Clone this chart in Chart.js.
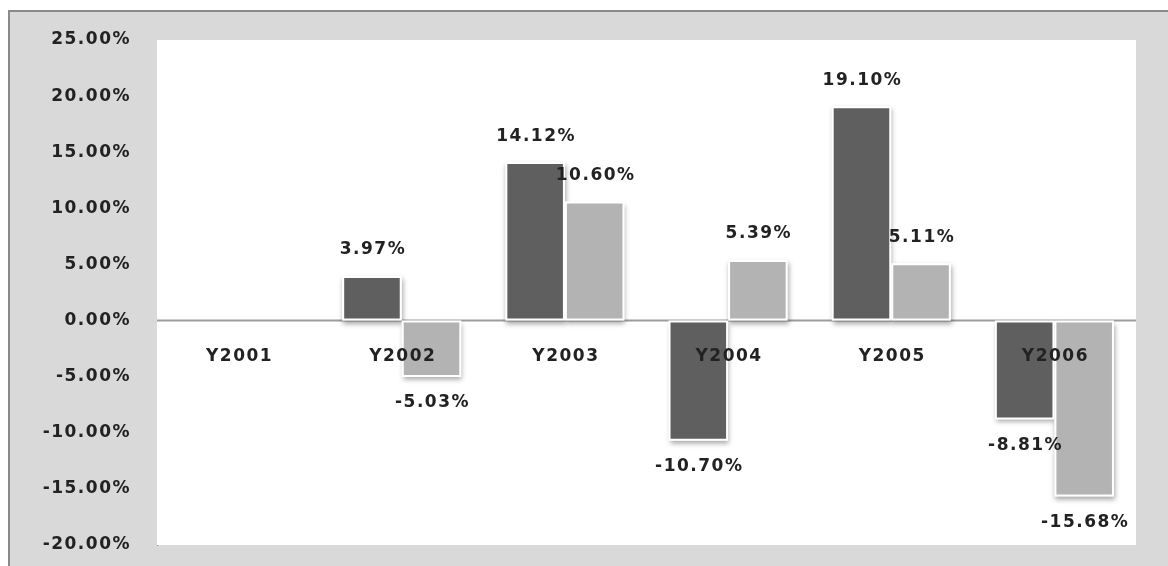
<!DOCTYPE html>
<html>
<head>
<meta charset="utf-8">
<title>Annual returns Y2001-Y2006</title>
<script src="https://cdn.jsdelivr.net/npm/chart.js@4"></script>
<style>
    body { margin: 0; background: #ffffff; }
    #wrap { position: relative; width: 1168px; height: 566px; overflow: hidden; }
    #frame {
        position: absolute; left: 8px; top: 10px; width: 1200px; height: 600px;
        background: #d9d9d9; border-left: 2px solid #8a8a8a; border-top: 2px solid #8a8a8a;
    }
    #returnsChart { position: absolute; left: 0; top: 0; }
</style>
</head>
<body>
<div id="wrap">
    <div id="frame"></div>
    <canvas id="returnsChart" width="1168" height="566"></canvas>
</div>
<script>
        // yearly returns (%), Y2001 has no figures
        const years = ["Y2001", "Y2002", "Y2003", "Y2004", "Y2005", "Y2006"];
        const seriesA = [null, 3.97, 14.12, -10.70, 19.10, -8.81];
        const seriesB = [null, -5.03, 10.60, 5.39, 5.11, -15.68];
        const yTicks = [-20, -15, -10, -5, 0, 5, 10, 15, 20, 25];

        const textFont = 'bold 17px "DejaVu Sans"';
        const textColor = "#222222";
        const spacing = "1.5px";

        // white plot area, zero line and soft shadows behind the bars
        const backdrop = {
            id: "backdrop",
            beforeDraw(chart) {
                chart.ctx.letterSpacing = spacing;
            },
            beforeDatasetsDraw(chart) {
                const { ctx, chartArea: a, scales } = chart;
                ctx.save();
                ctx.fillStyle = "#ffffff";
                ctx.fillRect(a.left, a.top, a.right - a.left, a.bottom - a.top);

                const y0 = scales.y.getPixelForValue(0);
                ctx.strokeStyle = "#9c9c9c";
                ctx.lineWidth = 2;
                ctx.beginPath();
                ctx.moveTo(a.left, y0);
                ctx.lineTo(a.right, y0);
                ctx.stroke();

                ctx.shadowColor = "rgba(0,0,0,0.35)";
                ctx.shadowBlur = 5;
                ctx.shadowOffsetX = 1;
                ctx.shadowOffsetY = 3;
                ctx.fillStyle = "#ffffff";
                chart.data.datasets.forEach((ds, i) => {
                    chart.getDatasetMeta(i).data.forEach((bar, j) => {
                        if (ds.data[j] == null) return;
                        const top = Math.min(bar.y, bar.base);
                        const h = Math.abs(bar.y - bar.base);
                        ctx.fillRect(bar.x - bar.width / 2, top, bar.width, h);
                    });
                });
                ctx.restore();
            },
            afterDraw(chart) {
                const { ctx, scales } = chart;
                ctx.save();
                ctx.letterSpacing = spacing;
                ctx.font = textFont;
                ctx.fillStyle = textColor;
                ctx.textAlign = "center";
                ctx.textBaseline = "middle";

                // value labels just past the end of each bar
                chart.data.datasets.forEach((ds, i) => {
                    chart.getDatasetMeta(i).data.forEach((bar, j) => {
                        const v = ds.data[j];
                        if (v == null) return;
                        const y = v >= 0 ? bar.y - 26 : bar.y + 26;
                        ctx.fillText(v.toFixed(2) + "%", bar.x + 1, y);
                    });
                });

                // year names sit under the zero line, over the bars
                const yLab = scales.y.getPixelForValue(0) + 36;
                years.forEach((name, j) => {
                    ctx.fillText(name, scales.x.getPixelForValue(j) + 1, yLab);
                });
                ctx.restore();
            }
        };

        const ctx = document.getElementById("returnsChart").getContext("2d");
        new Chart(ctx, {
            type: "bar",
            data: {
                labels: years,
                datasets: [
                    {
                        label: "A",
                        data: seriesA,
                        backgroundColor: "#5f5f5f",
                        borderColor: "#ffffff",
                        borderWidth: 2,
                        borderSkipped: false,
                    },
                    {
                        label: "B",
                        data: seriesB,
                        backgroundColor: "#b3b3b3",
                        borderColor: "#ffffff",
                        borderWidth: 2,
                        borderSkipped: false,
                    },
                ],
            },
            options: {
                responsive: false,
                animation: false,
                layout: { padding: { top: 40, right: 32, bottom: 21, left: 0 } },
                plugins: {
                    legend: { display: false },
                    tooltip: { enabled: false },
                },
                datasets: {
                    bar: { categoryPercentage: 0.73, barPercentage: 1.0 },
                },
                scales: {
                    x: { display: false },
                    y: {
                        min: -20,
                        max: 25,
                        afterBuildTicks: (scale) => {
                            scale.ticks = yTicks.map((v) => ({ value: v }));
                        },
                        afterFit: (scale) => {
                            scale.width = 157;
                            scale.paddingTop = 0;
                            scale.paddingBottom = 0;
                        },
                        grid: { display: false, drawTicks: false },
                        border: { display: true, color: "#8a8a8a", width: 1 },
                        ticks: {
                            padding: 26,
                            color: textColor,
                            font: { family: "DejaVu Sans", size: 17, weight: "bold" },
                            callback: (v) => v.toFixed(2) + "%",
                        },
                    },
                },
            },
            plugins: [backdrop],
        });
</script>
</body>
</html>
